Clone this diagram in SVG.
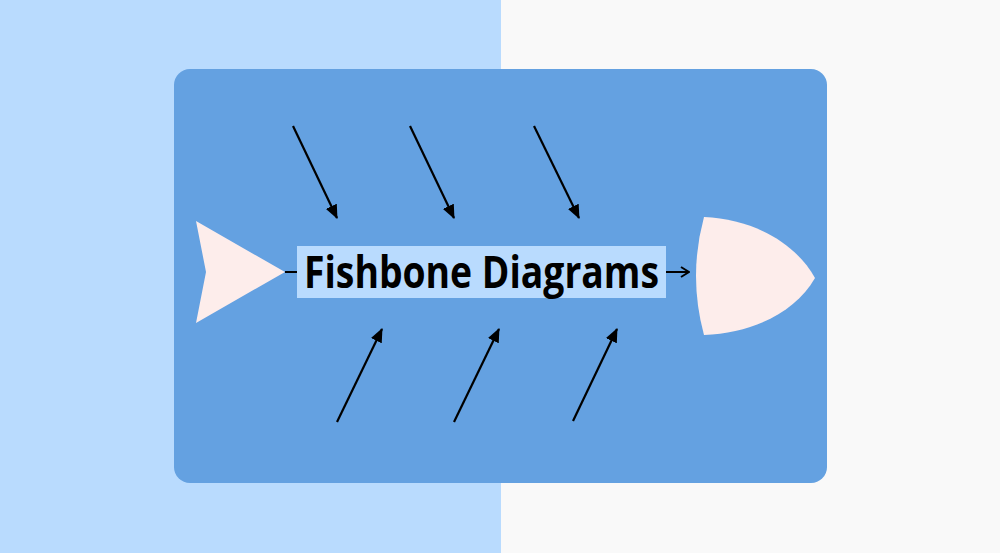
<svg xmlns="http://www.w3.org/2000/svg" width="1000" height="553" viewBox="0 0 1000 553">
<defs>
<style>
.bone{stroke:#000;stroke-width:2.2;fill:none;marker-end:url(#ah)}
.fish{fill:#fdedeb}
.title{font-family:"Open Sans","Noto Sans",sans-serif;font-weight:700;font-size:44px;fill:#000}
</style>
<marker id="ah" viewBox="0 0 14 12" refX="13" refY="6" markerWidth="14" markerHeight="12" markerUnits="userSpaceOnUse" orient="auto">
<path d="M0,0 L14,6 L0,12 Z" fill="#000"/>
</marker>
<marker id="oa" viewBox="0 0 10 12" refX="9" refY="6" markerWidth="10" markerHeight="12" markerUnits="userSpaceOnUse" orient="auto">
<path d="M1,1 L9,6 L1,11" fill="none" stroke="#000" stroke-width="2"/>
</marker>
</defs>
<rect x="0" y="0" width="501" height="553" fill="#b9dbfe"/>
<rect x="501" y="0" width="499" height="553" fill="#f9f9f9"/>
<rect x="174" y="69" width="653" height="414" rx="16" fill="#64a1e1"/>
<g id="tail"><path class="fish" d="M196,221 L285,272 L196,323 L206,272 Z"/></g>
<g id="head"><path class="fish" d="M704,217 C752,219 795,242 815,278 C795,313 752,333 704,335 Q688,276 704,217 Z"/></g>
<g id="title">
<rect x="297" y="246" width="369" height="52" fill="#b9dbfe"/>
<text class="title" x="304" y="288" textLength="355" lengthAdjust="spacingAndGlyphs">Fishbone Diagrams</text>
</g>
<g id="connectors">
<line x1="285" y1="272" x2="297" y2="272" stroke="#000" stroke-width="2"/>
<line x1="666" y1="272" x2="689" y2="272" stroke="#000" stroke-width="2" marker-end="url(#oa)"/>
<line class="bone" x1="293" y1="126" x2="337" y2="218"/>
<line class="bone" x1="410" y1="126" x2="454" y2="218"/>
<line class="bone" x1="534" y1="126" x2="579" y2="218"/>
<line class="bone" x1="337" y1="422" x2="382" y2="329"/>
<line class="bone" x1="454" y1="422" x2="499" y2="329"/>
<line class="bone" x1="573" y1="421" x2="617" y2="329"/>
</g>
</svg>
